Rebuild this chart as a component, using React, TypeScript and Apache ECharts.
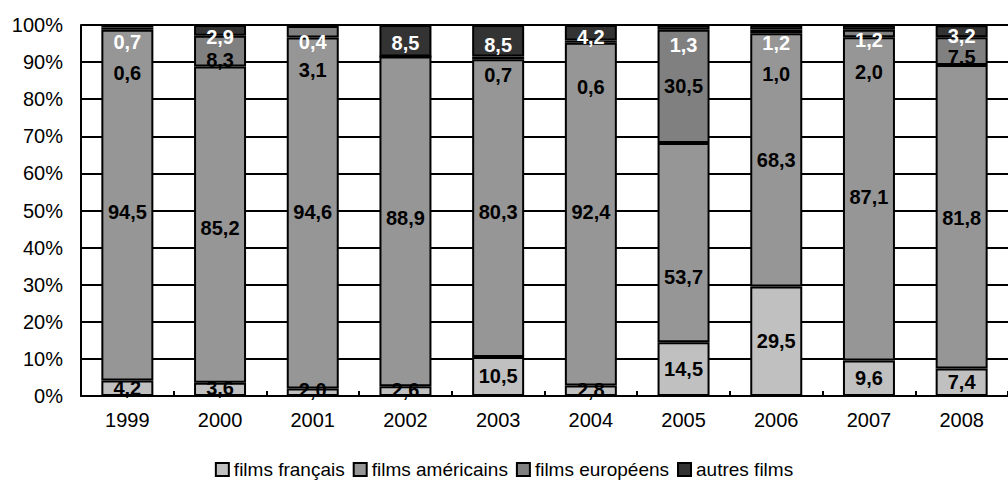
import React, { useEffect, useRef } from "react";
import * as echarts from "echarts";

const years = ["1999", "2000", "2001", "2002", "2003", "2004", "2005", "2006", "2007", "2008"];
const filmsFrancais = [4.2, 3.6, 2.0, 2.6, 10.5, 2.8, 14.5, 29.5, 9.6, 7.4];
const filmsAmericains = [94.5, 85.2, 94.6, 88.9, 80.3, 92.4, 53.7, 68.3, 87.1, 81.8];
const filmsEuropeens = [0.6, 8.3, 3.1, 0, 0.7, 0.6, 30.5, 1.0, 2.0, 7.5];
const autresFilms = [0.7, 2.9, 0.4, 8.5, 8.5, 4.2, 1.3, 1.2, 1.2, 3.2];

// vertical nudges of the value labels (px), as placed in the original
const nudgeFr = [0, -1, -2, -1, -1, -1, 0, 0, 0, 0];
const nudgeAm = [7, 3, -1, -3, 4, -2, 34, 0, -2, 1];
const nudgeEu = [44, 9, 38, 0, 17, 45, 0, 43, 38, 6];
const nudgeAu = [16, 7, 17, 2, 4, 4, 18, 16, 12, 5];

const FONT = "'Liberation Sans', Arial, sans-serif";

function fmt(v: number) {
  return v === 0 ? "" : v.toFixed(1).replace(".", ",");
}

function makeSeries(name: string, values: number[], nudges: number[], color: string, textColor: string) {
  return {
    name,
    type: "bar",
    stack: "total",
    barWidth: 52,
    itemStyle: { color, borderColor: "#000", borderWidth: 2 },
    label: {
      show: true,
      position: "inside",
      color: textColor,
      fontFamily: FONT,
      fontWeight: "bold",
      fontSize: 20,
      formatter: (p: any) => fmt(p.value),
    },
    data: values.map((v, i) => ({ value: v, label: { offset: [0, nudges[i]] } })),
  };
}

export default function App() {
  const ref = useRef<HTMLDivElement>(null);
  useEffect(() => {
    if (!ref.current) return;
    const chart = echarts.init(ref.current, undefined, { renderer: "svg" });
    chart.setOption({
      animation: false,
      backgroundColor: "#fff",
      textStyle: { fontFamily: FONT },
      grid: { left: 81, top: 25, width: 940, height: 371, containLabel: false },
      legend: {
        top: 455,
        left: "center",
        icon: "rect",
        itemWidth: 13,
        itemHeight: 13,
        itemGap: 8,
        textStyle: { color: "#000", fontSize: 19, fontFamily: FONT },
        data: ["films français", "films américains", "films européens", "autres films"],
      },
      xAxis: {
        type: "category",
        data: years,
        axisLine: { lineStyle: { color: "#000", width: 2 } },
        axisTick: { show: true, inside: true, length: 5, lineStyle: { color: "#000", width: 2 } },
        axisLabel: { color: "#000", fontSize: 20, margin: 14, fontFamily: FONT },
      },
      yAxis: {
        type: "value",
        min: 0,
        max: 100,
        interval: 10,
        axisLine: { show: true, lineStyle: { color: "#000", width: 2 } },
        axisTick: { show: false },
        splitLine: { show: true, lineStyle: { color: "#000", width: 2 } },
        axisLabel: { color: "#000", fontSize: 20, margin: 18, formatter: "{value}%", fontFamily: FONT },
      },
      series: [
        makeSeries("films français", filmsFrancais, nudgeFr, "#c0c0c0", "#000"),
        makeSeries("films américains", filmsAmericains, nudgeAm, "#969696", "#000"),
        makeSeries("films européens", filmsEuropeens, nudgeEu, "#808080", "#000"),
        makeSeries("autres films", autresFilms, nudgeAu, "#333333", "#fff"),
      ],
    });
    return () => chart.dispose();
  }, []);
  return (
    <div
      ref={ref}
      style={{ position: "fixed", left: 0, top: 0, width: 1008, height: 495, background: "#fff" }}
    />
  );
}
